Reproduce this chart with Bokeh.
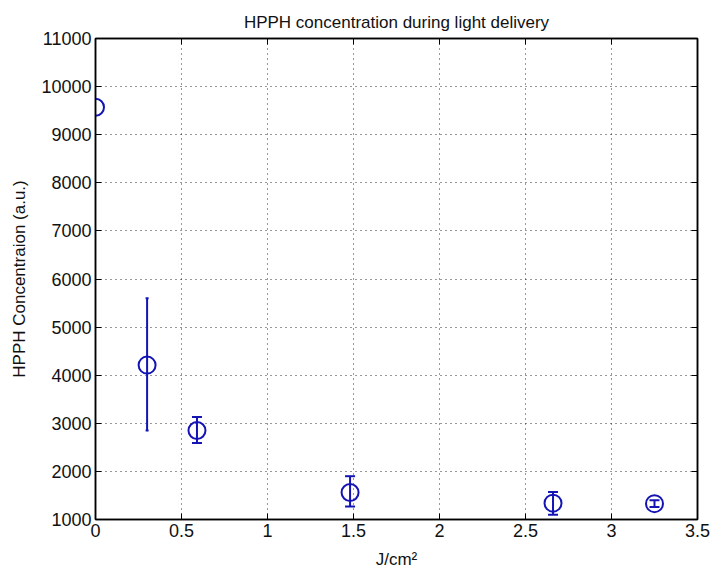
from bokeh.plotting import figure
from bokeh.models import (ColumnDataSource, Whisker, TeeHead, LinearAxis, FixedTicker,
                          Range1d, CustomJSTickFormatter)
from bokeh.embed import file_html
from bokeh.resources import INLINE

fluence = [0.0, 0.30, 0.59, 1.48, 2.66, 3.25]
conc = [9570, 4210, 2850, 1560, 1340, 1330]
err_low = [9570, 2850, 2590, 1270, 1100, 1260]
err_high = [9570, 5600, 3130, 1900, 1570, 1400]

x_ticks = [0, 0.5, 1, 1.5, 2, 2.5, 3, 3.5]
y_ticks = [1000, 2000, 3000, 4000, 5000, 6000, 7000, 8000, 9000, 10000, 11000]

FONT = "Liberation Sans"
BLUE = "#1414b4"

src = ColumnDataSource(dict(x=fluence, y=conc))

# error bars: the wide one (0.3 J/cm2) has very small caps in the reference
idx_small = [i for i in range(len(fluence)) if err_high[i] - err_low[i] > 2000]
idx_norm = [i for i in range(len(fluence))
            if 0 < err_high[i] - err_low[i] <= 2000]
src_small = ColumnDataSource(dict(x=[fluence[i] for i in idx_small],
                                  lo=[err_low[i] for i in idx_small],
                                  hi=[err_high[i] for i in idx_small]))
src_norm = ColumnDataSource(dict(x=[fluence[i] for i in idx_norm],
                                 lo=[err_low[i] for i in idx_norm],
                                 hi=[err_high[i] for i in idx_norm]))

p = figure(width=713, height=582, output_backend="svg", toolbar_location=None,
           x_range=Range1d(0, 3.5), y_range=Range1d(1000, 11000),
           min_border_left=95, min_border_right=16, min_border_top=38, min_border_bottom=63,
           title="HPPH concentration during light delivery")
p.title.align = "center"
p.title.text_font = FONT
p.title.text_font_size = "17px"
p.title.text_font_style = "normal"
p.title.text_color = "#111111"
p.title.offset = 0
p.title.standoff = 13

p.outline_line_color = "black"
p.outline_line_width = 1.5

for ax in (p.xaxis[0], p.yaxis[0]):
    ax.major_tick_in = 6
    ax.major_tick_out = 0
    ax.minor_tick_in = 0
    ax.minor_tick_out = 0
    ax.axis_line_width = 1.5
    ax.major_label_text_font = FONT
    ax.major_label_text_font_size = "18px"
    ax.major_label_text_color = "#111111"
    ax.axis_label_text_font = FONT
    ax.axis_label_text_font_size = "17px"
    ax.axis_label_text_font_style = "normal"
    ax.axis_label_text_color = "#111111"

p.xaxis[0].ticker = FixedTicker(ticks=x_ticks)
p.yaxis[0].ticker = FixedTicker(ticks=y_ticks)
p.xaxis[0].axis_label = "J/cm²"
p.yaxis[0].axis_label = "HPPH Concentraion (a.u.)"
p.xaxis[0].major_label_standoff = 4
p.yaxis[0].major_label_standoff = 4
p.xaxis[0].axis_label_standoff = 10
p.yaxis[0].axis_label_standoff = 9

blank = CustomJSTickFormatter(code="return ''")
top_ax = LinearAxis(ticker=FixedTicker(ticks=x_ticks), formatter=blank,
                    major_tick_in=6, major_tick_out=0, minor_tick_in=0, minor_tick_out=0,
                    axis_line_width=1.5)
right_ax = LinearAxis(ticker=FixedTicker(ticks=y_ticks), formatter=blank,
                      major_tick_in=6, major_tick_out=0, minor_tick_in=0, minor_tick_out=0,
                      axis_line_width=1.5)
p.add_layout(top_ax, "above")
p.add_layout(right_ax, "right")

p.xgrid.ticker = FixedTicker(ticks=x_ticks)
p.ygrid.ticker = FixedTicker(ticks=y_ticks)
for g in (p.xgrid, p.ygrid):
    g.grid_line_color = "black"
    g.grid_line_dash = "1 4"
    g.grid_line_width = 1
    g.grid_line_alpha = 0.8

for s, cap in ((src_small, 3), (src_norm, 10)):
    w = Whisker(source=s, base="x", lower="lo", upper="hi",
                line_color=BLUE, line_width=2,
                lower_head=TeeHead(size=cap, line_color=BLUE, line_width=2),
                upper_head=TeeHead(size=cap, line_color=BLUE, line_width=2))
    p.add_layout(w)

p.scatter("x", "y", source=src, marker="circle", size=17, fill_color=None,
          line_color=BLUE, line_width=2)

open("out.html", "w").write(file_html(p, INLINE))
